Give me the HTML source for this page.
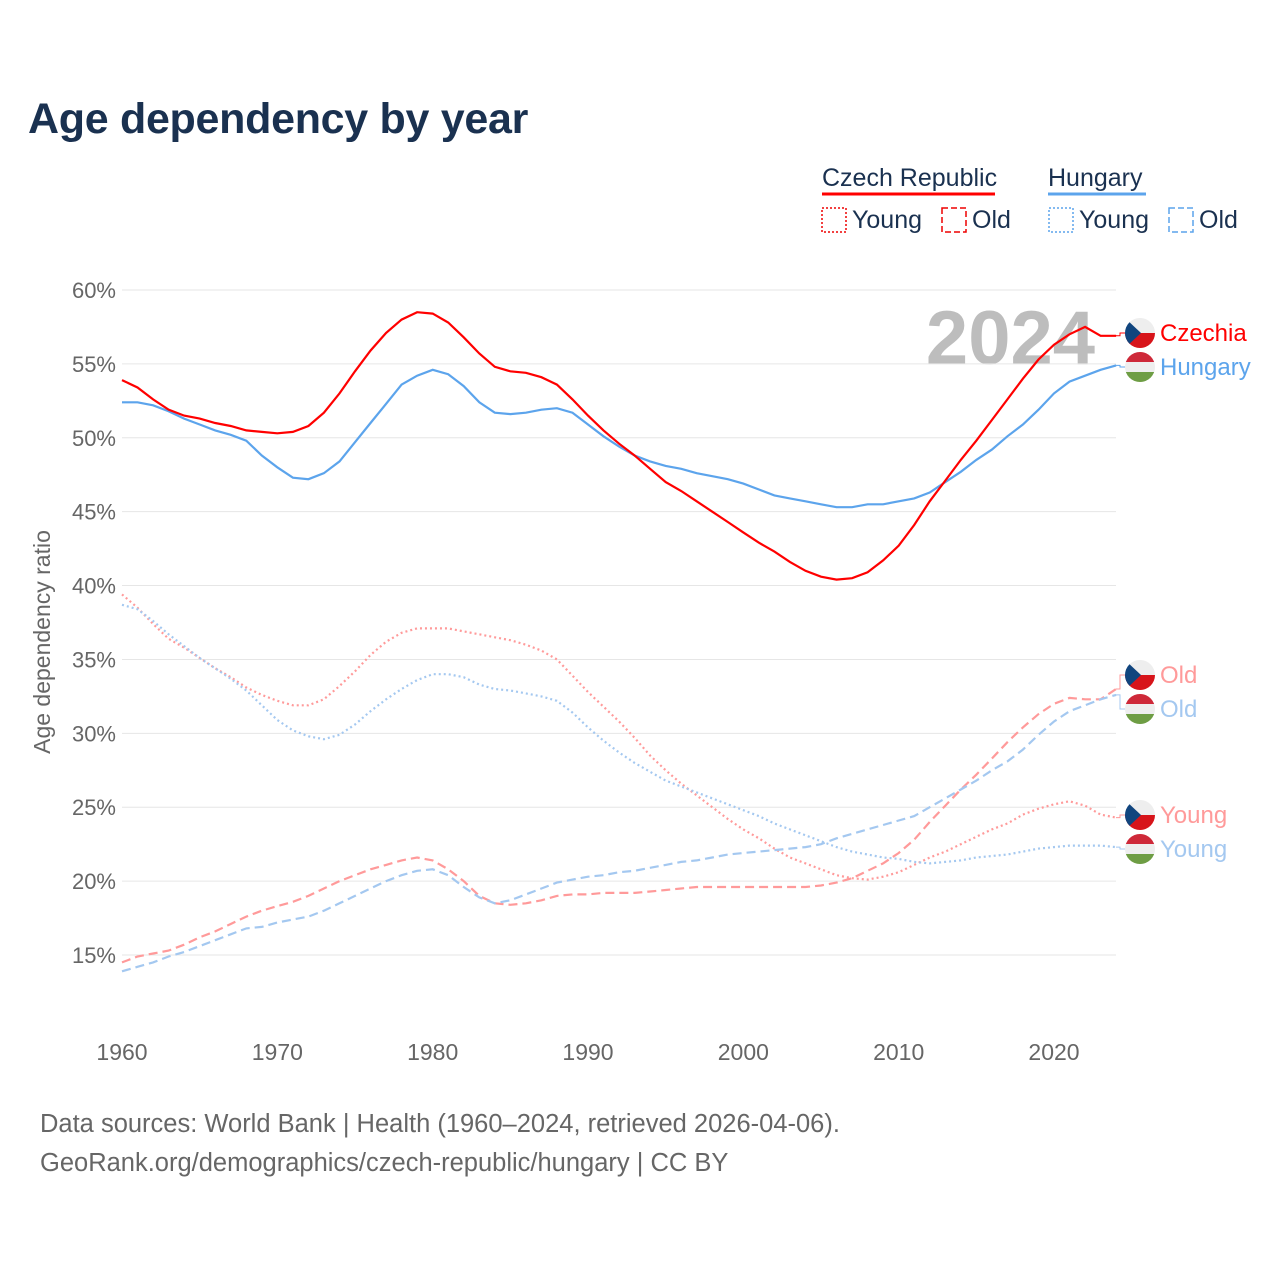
<!DOCTYPE html>
<html><head><meta charset="utf-8"><style>
body{margin:0;background:#fff;font-family:"Liberation Sans",sans-serif}
</style></head><body>
<svg width="1280" height="1280" xmlns="http://www.w3.org/2000/svg" style="font-family:'Liberation Sans',sans-serif">
<text x="28" y="133" font-size="43" font-weight="bold" fill="#1a3150" letter-spacing="-0.3">Age dependency by year</text>
<g font-size="25" fill="#1a3150">
<text x="822" y="186">Czech Republic</text>
<line x1="822" y1="194" x2="995" y2="194" stroke="#f00" stroke-width="3"/>
<text x="1048" y="186">Hungary</text>
<line x1="1048" y1="194" x2="1146" y2="194" stroke="#5ca4ec" stroke-width="3"/>
<rect x="822" y="208" width="24" height="24" fill="none" stroke="#e00" stroke-dasharray="2,2" stroke-width="1.5"/>
<text x="852" y="228">Young</text>
<rect x="942" y="208" width="24" height="24" fill="none" stroke="#e00" stroke-dasharray="6,3" stroke-width="1.5"/>
<text x="972" y="228">Old</text>
<rect x="1049" y="208" width="24" height="24" fill="none" stroke="#5ca4ec" stroke-dasharray="2,2" stroke-width="1.5"/>
<text x="1079" y="228">Young</text>
<rect x="1169" y="208" width="24" height="24" fill="none" stroke="#5ca4ec" stroke-dasharray="6,3" stroke-width="1.5"/>
<text x="1199" y="228">Old</text>
</g>
<text x="1095" y="364" font-size="76" font-weight="bold" fill="#bdbdbd" text-anchor="end">2024</text>
<text transform="translate(50,642) rotate(-90)" font-size="23" fill="#666" text-anchor="middle">Age dependency ratio</text>
<g id="grid"></g><g id="ticks"></g><g id="lines"></g><g id="labels"></g>
<text x="40" y="1132" font-size="25.5" fill="#666">Data sources: World Bank | Health (1960–2024, retrieved 2026-04-06).</text>
<text x="40" y="1171" font-size="25.5" fill="#666">GeoRank.org/demographics/czech-republic/hungary | CC BY</text>
</svg>
<script>
const years=[];for(let y=1960;y<=2024;y++)years.push(y);
const czTotal=[53.9,53.4,52.6,51.9,51.5,51.3,51.0,50.8,50.5,50.4,50.3,50.4,50.8,51.7,53.0,54.5,55.9,57.1,58.0,58.5,58.4,57.8,56.8,55.7,54.8,54.5,54.4,54.1,53.6,52.6,51.5,50.5,49.6,48.8,47.9,47.0,46.4,45.7,45.0,44.3,43.6,42.9,42.3,41.6,41.0,40.6,40.4,40.5,40.9,41.7,42.7,44.1,45.7,47.1,48.5,49.8,51.2,52.6,54.0,55.3,56.3,57.0,57.5,56.9,56.9];
const huTotal=[52.4,52.4,52.2,51.8,51.3,50.9,50.5,50.2,49.8,48.8,48.0,47.3,47.2,47.6,48.4,49.7,51.0,52.3,53.6,54.2,54.6,54.3,53.5,52.4,51.7,51.6,51.7,51.9,52.0,51.7,50.9,50.1,49.4,48.8,48.4,48.1,47.9,47.6,47.4,47.2,46.9,46.5,46.1,45.9,45.7,45.5,45.3,45.3,45.5,45.5,45.7,45.9,46.3,47.0,47.7,48.5,49.2,50.1,50.9,51.9,53.0,53.8,54.2,54.6,54.9];
const czYoung=[39.4,38.5,37.4,36.4,35.8,35.1,34.4,33.8,33.1,32.6,32.2,31.9,31.9,32.3,33.2,34.2,35.3,36.2,36.8,37.1,37.1,37.1,36.9,36.7,36.5,36.3,36.0,35.6,35.0,33.9,32.8,31.8,30.8,29.7,28.5,27.5,26.6,25.8,25.0,24.2,23.5,22.9,22.2,21.6,21.2,20.8,20.4,20.2,20.1,20.3,20.6,21.1,21.6,22.0,22.5,23.0,23.5,23.9,24.5,24.9,25.2,25.4,25.1,24.5,24.3];
const huYoung=[38.7,38.4,37.6,36.7,35.9,35.1,34.4,33.7,32.9,31.9,30.9,30.2,29.8,29.6,29.9,30.6,31.5,32.3,33.0,33.6,34.0,34.0,33.8,33.3,33.0,32.9,32.7,32.5,32.2,31.4,30.4,29.5,28.7,28.0,27.4,26.8,26.4,26.0,25.6,25.2,24.8,24.4,23.9,23.5,23.1,22.7,22.3,22.0,21.8,21.6,21.5,21.3,21.2,21.3,21.4,21.6,21.7,21.8,22.0,22.2,22.3,22.4,22.4,22.4,22.3];
const czOld=[14.5,14.9,15.1,15.3,15.7,16.2,16.6,17.1,17.6,18.0,18.3,18.6,19.0,19.5,20.0,20.4,20.8,21.1,21.4,21.6,21.4,20.8,20.0,19.0,18.5,18.4,18.5,18.7,19.0,19.1,19.1,19.2,19.2,19.2,19.3,19.4,19.5,19.6,19.6,19.6,19.6,19.6,19.6,19.6,19.6,19.7,19.9,20.2,20.7,21.2,21.9,22.8,24.0,25.1,26.2,27.2,28.3,29.4,30.4,31.3,32.0,32.4,32.3,32.3,33.0];
const huOld=[13.9,14.2,14.5,14.9,15.2,15.6,16.0,16.4,16.8,16.9,17.2,17.4,17.6,18.0,18.5,19.0,19.5,20.0,20.4,20.7,20.8,20.4,19.6,18.9,18.5,18.7,19.1,19.5,19.9,20.1,20.3,20.4,20.6,20.7,20.9,21.1,21.3,21.4,21.6,21.8,21.9,22.0,22.1,22.2,22.3,22.5,22.9,23.2,23.5,23.8,24.1,24.4,25.0,25.6,26.2,26.8,27.5,28.1,28.9,29.9,30.8,31.5,31.9,32.3,32.6];
const yTicks=[15,20,25,30,35,40,45,50,55,60];
const xTicks=[1960,1970,1980,1990,2000,2010,2020];
const NS='http://www.w3.org/2000/svg';
const X=y=>122+(y-1960)*(1054-122)/60;
const Y=v=>290+(60-v)*(955-290)/45;
function mk(t,a,p){const e=document.createElementNS(NS,t);for(const k in a)e.setAttribute(k,a[k]);document.getElementById(p).appendChild(e);return e;}
yTicks.forEach(v=>{
 const l=mk('line',{x1:122,x2:1116,y1:Y(v),y2:Y(v),stroke:'#e6e6e6','stroke-width':1},'grid');
 
 
 const t=mk('text',{x:116,y:Y(v)+8,'font-size':22,fill:'#666','text-anchor':'end'},'ticks');
 t.textContent=v+'%';
 
 
});
xTicks.forEach(v=>{
 const t=mk('text',{x:X(v),y:1060,'font-size':23,fill:'#666','text-anchor':'middle'},'ticks');
 t.textContent=v;
 
 
});
const series=[
 [czYoung,'#ff9a9a','2,3','czech-young-line'],
 [huYoung,'#a4c8f0','2,3','hungary-young-line'],
 [czOld,'#ff9a9a','9,5','czech-old-line'],
 [huOld,'#a4c8f0','9,5','hungary-old-line'],
 [huTotal,'#5ca4ec','','hungary-total-line'],
 [czTotal,'#f00','','czech-total-line']];
series.forEach(s=>{
 const d=s[0].map((v,i)=>(i?'L':'M')+X(years[i]).toFixed(1)+','+Y(v).toFixed(1)).join('');
 const p=mk('path',{d:d,fill:'none',stroke:s[1],'stroke-width':2.2,'stroke-dasharray':s[2]},'lines');
 
 
});
function flag(cx,cy,cz){
 const g=mk('g',{},'labels');
 
 
 const id='c'+cx+'_'+cy;
 const cp=document.createElementNS(NS,'clipPath');cp.setAttribute('id',id);
 const c=document.createElementNS(NS,'circle');c.setAttribute('cx',cx);c.setAttribute('cy',cy);c.setAttribute('r',15);cp.appendChild(c);g.appendChild(cp);
 const inner=document.createElementNS(NS,'g');inner.setAttribute('clip-path','url(#'+id+')');g.appendChild(inner);
 function r(x,y,w,h,f){const e=document.createElementNS(NS,'rect');e.setAttribute('x',x);e.setAttribute('y',y);e.setAttribute('width',w);e.setAttribute('height',h);e.setAttribute('fill',f);inner.appendChild(e);}
 if(cz){r(cx-15,cy-15,30,15,'#eee');r(cx-15,cy,30,15,'#d7141a');
  const t=document.createElementNS(NS,'polygon');t.setAttribute('points',(cx-15)+','+(cy-15)+' '+(cx+1)+','+cy+' '+(cx-15)+','+(cy+15));t.setAttribute('fill','#11457e');inner.appendChild(t);}
 else{r(cx-15,cy-15,30,10,'#ce2939');r(cx-15,cy-5,30,10,'#eee');r(cx-15,cy+5,30,10,'#6e9d44');}
}
const endLabels=[['Czechia',333,'#f00',true,czTotal],['Hungary',367,'#5ca4ec',false,huTotal],['Old',675,'#ff9a9a',true,czOld],['Old',709,'#a4c8f0',false,huOld],['Young',815,'#ff9a9a',true,czYoung],['Young',849,'#a4c8f0',false,huYoung]];
endLabels.forEach(l=>{
 const ey=Y(l[4][l[4].length-1]);
 const ln=mk('path',{d:'M1116,'+ey.toFixed(1)+'L1120,'+ey.toFixed(1)+'L1120,'+l[1]+'L1126,'+l[1],fill:'none',stroke:l[2],'stroke-width':1},'labels');
 
 
 flag(1140,l[1],l[3]);
 const t=mk('text',{x:1160,y:l[1]+8,'font-size':24,fill:l[2]},'labels');
 t.textContent=l[0];
 
 
});
</script>
</body></html>
